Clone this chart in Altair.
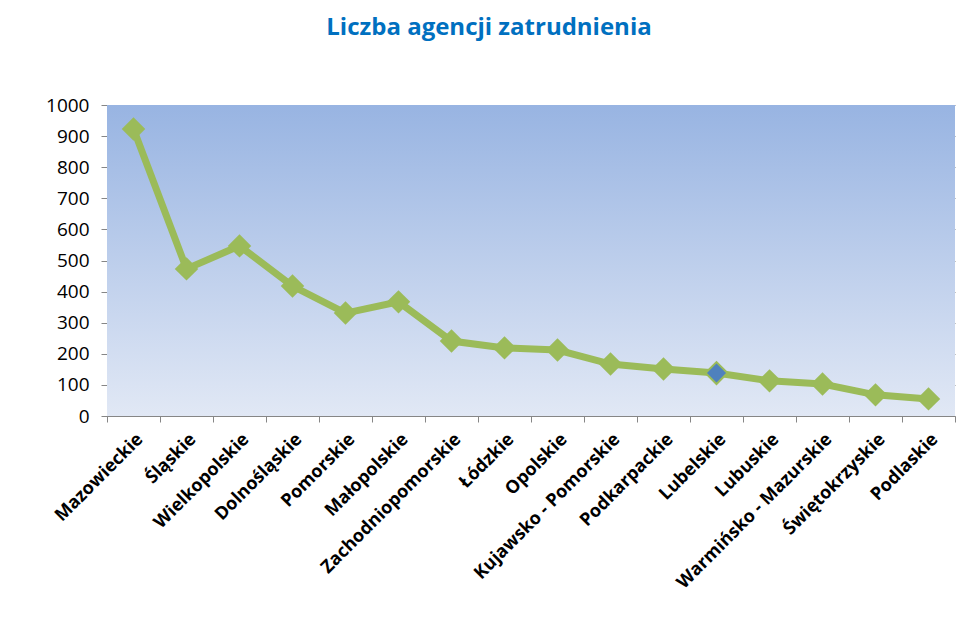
import altair as alt
import pandas as pd

regions = ["Mazowieckie", "Śląskie", "Wielkopolskie", "Dolnośląskie", "Pomorskie",
           "Małopolskie", "Zachodniopomorskie", "Łódzkie", "Opolskie",
           "Kujawsko - Pomorskie", "Podkarpackie", "Lubelskie", "Lubuskie",
           "Warmińsko - Mazurskie", "Świętokrzyskie", "Podlaskie"]
counts = [923, 473, 547, 418, 331, 367, 241, 219, 212, 167, 151, 138, 113, 103, 68, 55]
highlight = ["Lubelskie"]

df = pd.DataFrame({"region": regions, "count": counts})
df["hl"] = df["region"].isin(highlight)

W, H = 848, 311
FONT = "Open Sans"

xenc = alt.X("region:N", sort=regions, bandPosition=0.5,
             scale=alt.Scale(type="band", paddingInner=0, paddingOuter=0),
             axis=alt.Axis(title=None, labelAngle=-45, tickBand="extent",
                           labelFontWeight="bold", labelFontSize=18, labelFont=FONT,
                           labelColor="black", labelPadding=8, labelLimit=400,
                           domainColor="#868686", tickColor="#868686", tickSize=6,
                           grid=False))
yenc = alt.Y("count:Q", scale=alt.Scale(domain=[0, 1000]),
             axis=alt.Axis(title=None, values=list(range(0, 1001, 100)), format="d",
                           labelFontSize=19, labelFont=FONT, labelColor="black",
                           labelPadding=12,
                           domainColor="#868686", tickColor="#868686", tickSize=6,
                           gridColor="#868686", gridWidth=1))

bg = alt.Chart(pd.DataFrame({"a": [0]})).mark_rect(
    fill=alt.Gradient(gradient="linear", x1=0, y1=0, x2=0, y2=1,
                      stops=[alt.GradientStop(color="#98B4E2", offset=0),
                             alt.GradientStop(color="#E1E8F5", offset=1)])
).encode(x=alt.value(0), x2=alt.value(W), y=alt.value(0), y2=alt.value(H))

base = alt.Chart(df)
line = base.mark_line(color="#9BBB59", strokeWidth=7).encode(x=xenc, y=yenc)
pts = base.transform_filter("!datum.hl").mark_point(
    shape="diamond", filled=True, color="#9BBB59", size=550, opacity=1
).encode(x=xenc, y=yenc)
hl = base.transform_filter("datum.hl").mark_point(
    shape="diamond", filled=True, fill="#4F81BD", stroke="#9BBB59", strokeWidth=2,
    size=480, opacity=1
).encode(x=xenc, y=yenc)

chart = alt.layer(bg, line, pts, hl).properties(
    width=W, height=H,
    title=alt.TitleParams("Liczba agencji zatrudnienia", font=FONT, fontSize=24,
                          fontWeight="bold", color="#0070C0", anchor="middle",
                          dx=-42, offset=56),
    autosize=alt.AutoSizeParams(type="none"),
    padding={"left": 107, "top": 105, "right": 25, "bottom": 225},
    background="white"
).configure_view(stroke=None)

chart.save("out.html", embed_options={"renderer": "svg", "actions": False})
